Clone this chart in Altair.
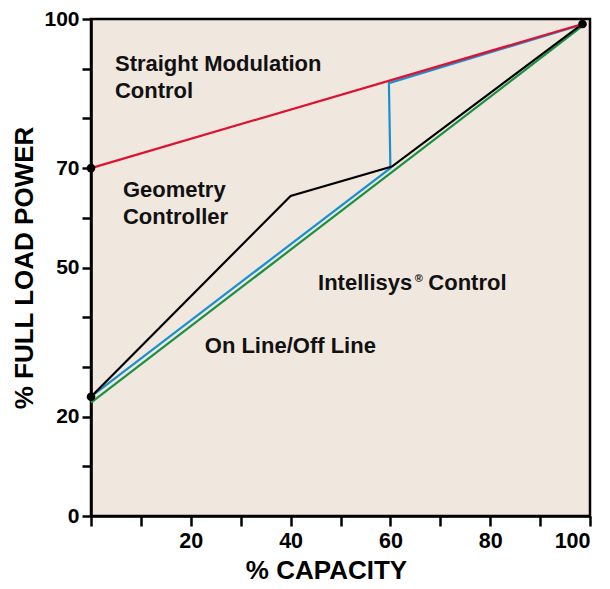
import altair as alt
import pandas as pd

# Series data (x = % capacity, y = % full load power)
red_x = [0, 98.5]
red_y = [70, 99]
blue_x = [0, 60, 59.7, 98.5]
blue_y = [24, 70, 87.1, 98.9]
black_x = [0, 40, 60.3, 98.5]
black_y = [24, 64.4, 70.3, 99]
green_x = [0, 98.5]
green_y = [22.8, 98.6]

dot_x = [0, 0, 98.5]
dot_y = [70, 24, 99]

label_text = ["Straight Modulation", "Control", "Geometry", "Controller",
              "Intellisys", "Control", "On Line/Off Line"]
label_x = [4.8, 4.8, 6.4, 6.4, 45.5, 67.6, 22.8]
label_y = [91, 85.6, 65.6, 60.2, 46.8, 46.8, 34.3]

reg_text = ["®"]
reg_x = [64.9]
reg_y = [47.6]

series_names = ["On Line/Off Line", "Intellisys", "Geometry", "Straight"]
series_colors = ["#1a9040", "#1a8fd0", "#000000", "#e0102f"]

rows = []
for name, xs, ys in [("On Line/Off Line", green_x, green_y),
                     ("Intellisys", blue_x, blue_y),
                     ("Geometry", black_x, black_y),
                     ("Straight", red_x, red_y)]:
    for i, (xv, yv) in enumerate(zip(xs, ys)):
        rows.append({"series": name, "x": xv, "y": yv, "i": i})
lines_df = pd.DataFrame(rows)
dots_df = pd.DataFrame({"x": dot_x, "y": dot_y})
labels_df = pd.DataFrame({"t": label_text, "x": label_x, "y": label_y})
reg_df = pd.DataFrame({"t": reg_text, "x": reg_x, "y": reg_y})

FONT = "Liberation Sans"

xscale = alt.Scale(domain=[0, 100], nice=False, zero=False)
yscale = alt.Scale(domain=[0, 100], nice=False, zero=False)

x_axis = alt.Axis(
    values=[0, 10, 20, 30, 40, 50, 60, 70, 80, 90, 100],
    labelExpr="indexof([20,40,60,80,100], datum.value) >= 0 ? datum.label : ''",
    grid=False, domain=True, domainColor="black", domainWidth=2.5,
    tickColor="black", tickWidth=2.5, tickSize=10,
    labelFont=FONT, labelFontSize=21.5, labelFontWeight="bold", labelColor="black",
    labelPadding=4, title="% CAPACITY", titleFont=FONT, titleFontSize=26,
    titleFontWeight="bold", titleColor="black", titlePadding=6, titleX=235,
)
y_axis = alt.Axis(
    values=[0, 10, 20, 30, 40, 50, 60, 70, 80, 90, 100],
    labelExpr="indexof([0,20,50,70,100], datum.value) >= 0 ? datum.label : ''",
    grid=False, domain=True, domainColor="black", domainWidth=2.5,
    tickColor="black", tickWidth=2.5, tickSize=9,
    labelFont=FONT, labelFontSize=21, labelFontWeight="bold", labelColor="black",
    labelPadding=3, title="% FULL LOAD POWER", titleFont=FONT, titleFontSize=26,
    titleFontWeight="bold", titleColor="black", titlePadding=6,
)

lines = alt.Chart(lines_df).mark_line(strokeWidth=2.2).encode(
    x=alt.X("x:Q", scale=xscale, axis=x_axis),
    y=alt.Y("y:Q", scale=yscale, axis=y_axis),
    color=alt.Color("series:N", scale=alt.Scale(domain=series_names, range=series_colors), legend=None),
    detail="series:N",
    order="i:O",
)

dots = alt.Chart(dots_df).mark_point(filled=True, size=75, color="black", opacity=1).encode(
    x=alt.X("x:Q", scale=xscale),
    y=alt.Y("y:Q", scale=yscale),
)

labels = alt.Chart(labels_df).mark_text(
    font=FONT, fontSize=22, fontWeight="bold", color="#111111", align="left", baseline="middle"
).encode(
    x=alt.X("x:Q", scale=xscale),
    y=alt.Y("y:Q", scale=yscale),
    text="t:N",
)

reg = alt.Chart(reg_df).mark_text(
    font=FONT, fontSize=11, fontWeight="bold", color="#111111", align="left", baseline="middle"
).encode(
    x=alt.X("x:Q", scale=xscale),
    y=alt.Y("y:Q", scale=yscale),
    text="t:N",
)

chart = alt.layer(lines, dots, labels, reg).properties(
    width=499, height=497,
    autosize=alt.AutoSizeParams(type="none"),
    padding={"left": 83, "top": 11, "right": 12, "bottom": 73},
    background="white",
).configure_view(
    fill="#f0e7df", stroke="black", strokeWidth=2.5,
)

chart.save("out.html", embed_options={"renderer": "svg", "actions": False})
